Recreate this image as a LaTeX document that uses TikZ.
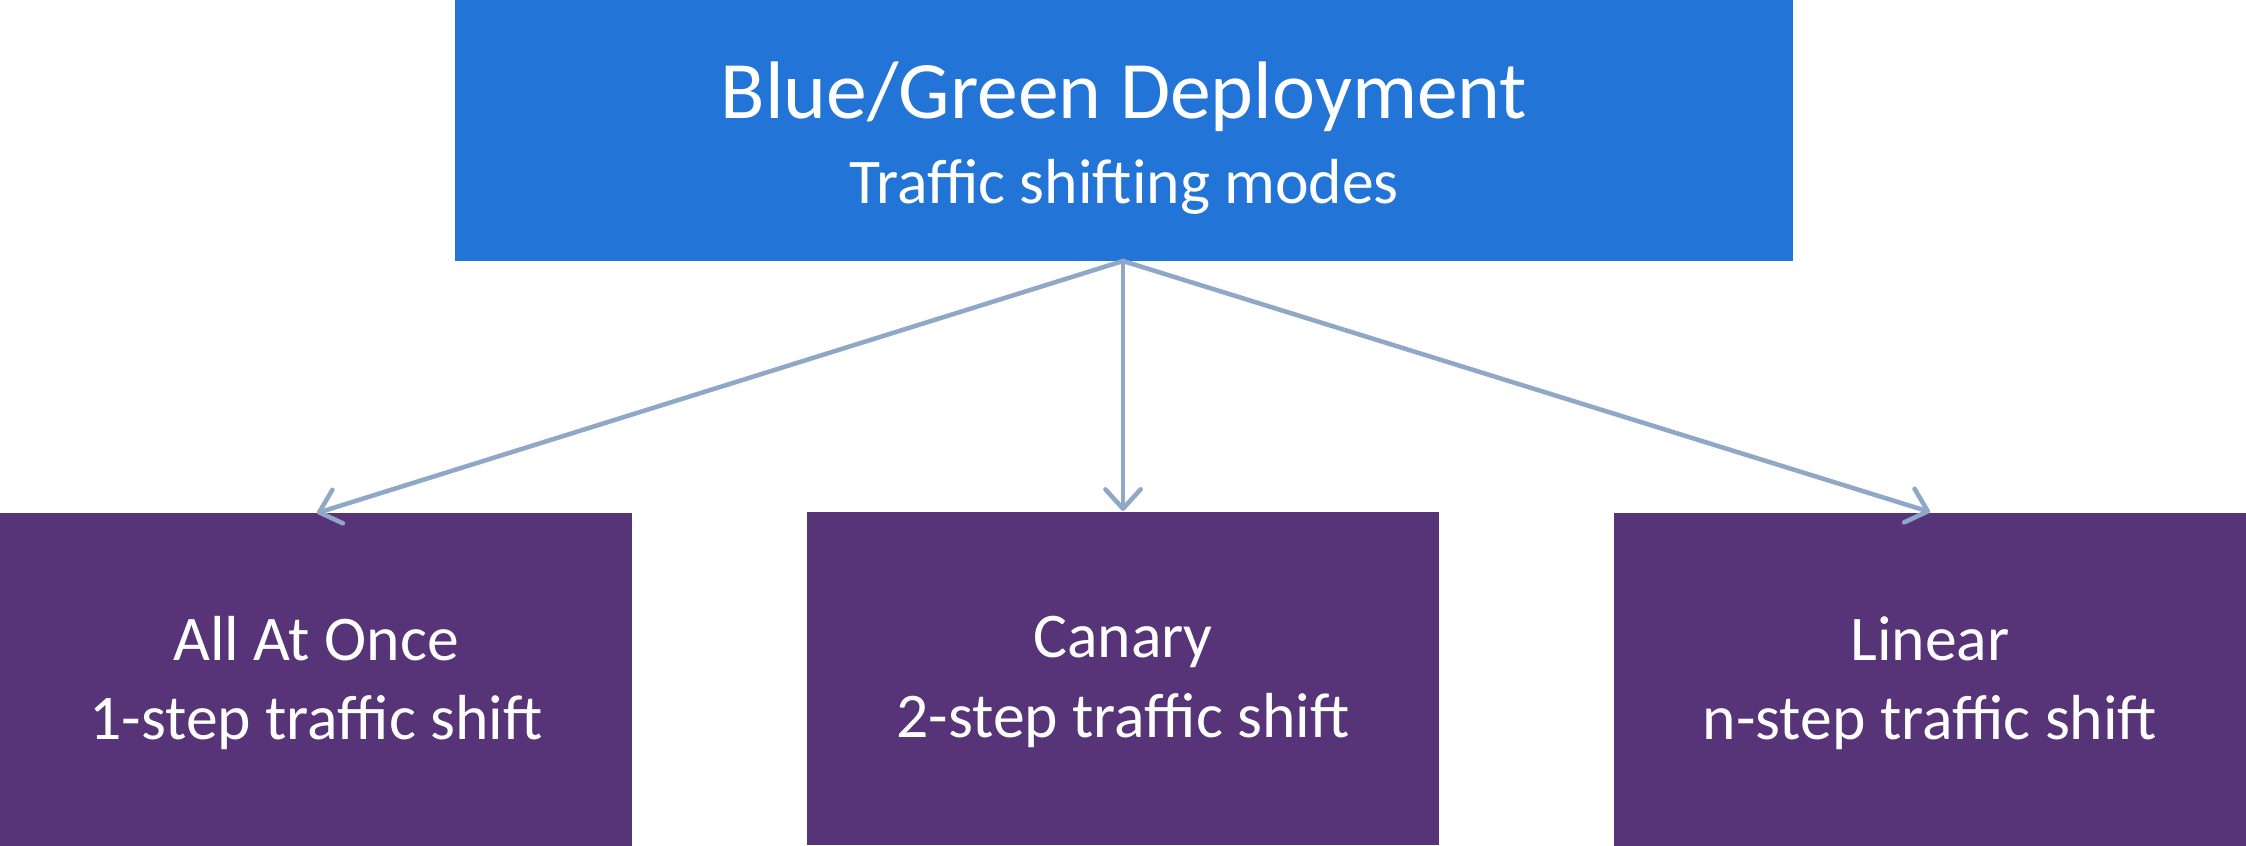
\documentclass[tikz,border=0pt]{standalone}
\usepackage{fontspec}
\setmainfont{Carlito}
\usetikzlibrary{arrows.meta}
\definecolor{topblue}{HTML}{2274D6}
\definecolor{boxpurple}{HTML}{563477}
\definecolor{arrowblue}{HTML}{8FA8C8}
\begin{document}
\begin{tikzpicture}[x=0.01cm,y=-0.01cm,
  topbox/.style={fill=topblue,draw=none,inner sep=0pt,
    minimum width=13.38cm,minimum height=2.61cm},
  modebox/.style={fill=boxpurple,draw=none,inner sep=0pt,
    minimum width=6.32cm,minimum height=3.32cm},
  toplabel/.style={text=white,align=center,font=\fontsize{18.1pt}{24pt}\selectfont},
  modelabel/.style={text=white,align=center,font=\fontsize{18.1pt}{22.6pt}\selectfont},
  conn/.style={draw=arrowblue,line width=1.3pt,line cap=round,
    -{Straight Barb[length=5.5pt,width=10pt,line width=1.3pt,round]}}]
\useasboundingbox (0,0) rectangle (2246,845);
\node[topbox] (top) at (1124,130.5) {};
\node[toplabel] (toptext) at (1124,138) {{\fontsize{23.2pt}{24pt}\selectfont Blue/Green Deployment}\\Traffic shifting modes};
\node[modebox] (a) at (316,679.5) {};
\node[modebox] (b) at (1123,678.5) {};
\node[modebox] (c) at (1930,679.5) {};
\node[modelabel] (at) at (316,683) {All At Once\\1-step traffic shift};
\node[modelabel] (bt) at (1123,682) {Canary\\2-step traffic shift};
\node[modelabel] (ct) at (1930,683) {Linear\\n-step traffic shift};
\coordinate (s) at (1123,261);
\coordinate (ea) at (317,513);
\coordinate (eb) at (1123,511);
\coordinate (ec) at (1930,512);
\draw[conn] (s) -- (ea);
\draw[conn] (s) -- (eb);
\draw[conn] (s) -- (ec);
\end{tikzpicture}
\end{document}
